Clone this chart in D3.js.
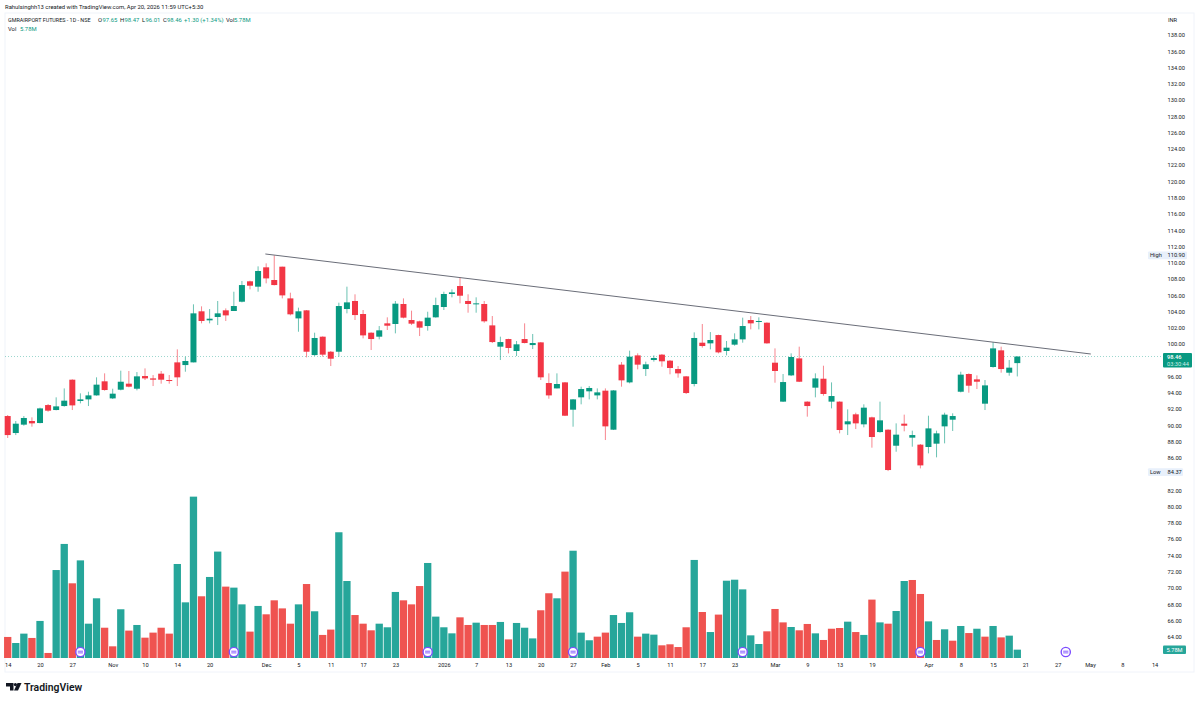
<!DOCTYPE html>
<html>
<head>
<meta charset="utf-8">
<script src="https://cdn.jsdelivr.net/npm/d3@7"></script>
<style>
  html, body { margin: 0; padding: 0; background: #fff; }
  text { font-family: Roboto, "Open Sans", sans-serif; }
</style>
</head>
<body>
<div id="chart"></div>
<script>
const opens = [91.14,89.05,90.08,90.53,90.28,92.49,91.88,92.37,95.61,92.99,93.19,93.68,95.41,93.31,94.38,95.12,94.50,96.06,95.77,96.35,95.57,97.74,97.41,97.74,104.02,102.91,103.32,104.14,104.06,105.20,107.71,107.05,109.43,107.87,109.51,105.61,103.15,104.14,98.64,100.90,99.05,99.05,
  104.30,105.29,103.69,101.39,100.90,102.54,102.46,104.92,102.95,102.79,102.21,103.28,104.55,106.15,107.13,105.29,104.92,104.92,102.29,99.67,100.61,99.14,100.61,99.87,100.20,95.20,94.54,95.28,91.92,93.44,94.18,93.68,94.26,89.46,97.46,95.28,98.60,96.92,98.03,98.69,97.95,96.92,
  96.02,95.08,100.16,100.08,101.10,99.14,99.92,100.57,102.95,102.74,102.62,97.70,92.91,96.14,98.23,92.91,94.63,95.73,92.91,92.91,90.12,91.35,90.12,90.98,89.17,89.46,87.49,90.20,88.48,87.62,87.33,87.74,89.87,90.69,94.13,96.31,95.65,92.66,97.17,99.22,96.47,97.65];
const highs = [91.26,90.53,91.14,90.98,92.17,92.62,93.44,94.54,95.65,93.93,94.13,95.90,96.39,94.50,96.72,96.68,96.55,97.00,96.18,96.68,96.18,99.34,98.44,104.88,104.63,104.30,105.29,104.38,106.43,107.75,107.79,109.55,109.92,110.90,109.51,106.31,104.47,104.18,101.39,100.94,99.14,105.08,
  107.05,106.11,104.18,101.43,102.21,103.28,105.29,105.61,104.10,102.87,103.97,105.70,106.43,106.72,108.20,106.11,105.74,105.29,103.44,100.90,100.65,100.37,102.54,101.23,100.24,96.39,96.39,95.32,93.23,94.75,94.83,94.54,94.54,94.33,97.78,99.18,98.85,97.83,98.60,98.77,98.03,97.29,
  96.06,101.43,102.46,101.47,101.15,100.37,101.31,103.24,103.44,103.28,102.66,99.46,96.31,98.85,99.67,92.95,96.39,97.33,95.28,92.95,91.96,91.55,92.58,91.06,92.91,89.50,90.24,91.31,89.34,87.70,91.18,89.34,91.55,91.47,96.59,96.39,96.14,95.57,100.24,99.67,98.03,98.47];
const lows = [88.44,88.80,89.95,89.83,90.24,91.67,91.84,92.29,91.88,92.70,92.37,93.64,94.26,93.23,94.30,94.67,94.30,95.57,94.83,95.12,95.12,94.83,96.59,97.74,102.54,102.54,102.33,102.83,104.06,105.12,106.72,106.43,107.46,107.21,105.61,103.52,101.51,98.36,98.52,98.44,97.29,98.44,
  103.77,102.95,100.69,99.26,100.57,101.72,101.31,103.15,102.33,100.98,101.64,103.24,104.18,105.74,105.00,103.85,103.85,102.62,100.12,98.03,98.85,98.52,100.08,99.38,95.57,93.27,94.54,91.14,89.83,92.58,93.19,93.19,88.19,89.42,94.75,95.16,96.88,96.06,97.83,97.21,96.27,95.86,
  93.85,94.79,99.55,99.34,98.85,98.60,99.79,100.16,101.80,101.80,100.04,95.24,92.87,96.06,95.32,91.06,93.44,93.64,92.08,89.01,88.80,89.54,89.75,87.25,89.09,84.37,86.75,89.26,87.37,84.70,86.55,86.06,87.78,89.30,94.05,94.01,94.46,91.88,97.09,96.47,96.10,96.01];
const closes = [88.80,90.20,90.90,90.24,92.08,91.80,92.33,93.03,92.45,93.19,93.68,95.00,94.34,93.89,95.36,94.75,96.02,95.77,95.61,95.61,95.45,95.90,97.91,103.77,102.83,103.11,103.77,103.52,104.67,107.25,107.17,108.98,108.07,107.25,105.98,103.65,104.02,99.05,100.74,98.69,98.19,104.67,
  105.12,103.56,101.06,100.61,101.68,102.25,104.96,103.24,102.50,102.01,103.24,104.79,106.15,106.35,105.94,104.92,105.00,102.79,100.24,100.24,99.51,99.96,100.12,100.12,95.90,93.68,95.08,91.18,93.19,94.46,94.59,94.05,89.87,94.29,95.53,98.44,97.46,97.50,98.28,97.87,97.05,96.39,
  93.97,100.74,99.75,100.49,98.97,99.55,100.57,102.21,102.54,102.83,100.08,96.68,95.32,98.40,95.36,92.37,95.77,93.85,93.60,89.42,90.49,90.24,92.17,88.56,90.61,84.50,88.85,89.95,88.80,85.07,89.62,89.01,91.31,91.14,96.23,94.87,95.36,94.91,99.46,96.92,97.09,98.46];

// volume in millions
const volumes = [14.6,10.4,16.9,13.9,25.7,3.5,61.0,79.1,51.8,67.7,23.8,41.4,21.0,8.1,33.8,19.0,22.9,14.1,17.6,21.0,16.9,65.2,38.6,111.9,42.8,56.2,73.8,49.5,48.8,37.2,18.3,36.1,30.3,40.0,34.4,23.8,37.2,51.3,32.4,16.0,19.7,87.2,
  53.4,29.8,23.8,19.2,23.8,21.3,45.8,40.0,37.2,49.9,65.9,28.7,21.3,17.1,28.2,22.9,24.5,22.9,22.9,25.0,12.9,24.3,21.0,13.6,33.1,44.9,41.4,59.9,74.4,17.6,12.3,14.8,17.6,29.8,24.3,31.7,14.8,16.9,16.2,8.8,9.5,7.6,
  21.3,68.0,31.9,18.0,30.1,53.6,54.3,47.6,15.7,9.7,18.5,34.0,24.7,21.5,19.2,23.6,17.1,12.5,20.3,20.8,25.2,18.0,16.0,40.5,24.7,23.8,32.6,53.4,54.1,44.4,25.4,12.5,19.9,12.0,22.2,17.3,20.3,14.8,22.2,14.3,15.5,5.78];
const volumeDirs = "rggrgrggrgggrrgrgrrrrgggrggrggrgrrrrgrgrrg" +
  "grrrgggrrrggggrrgrrgrgggrrgrgggrrgggrggrrr" +
  "rgrgrgggggrrrgrrgrrrgrgrgrggrrgrgrgrgrgrgg";

// 62, 84 and 98 sit under the price tags
const priceTicks = d3.range(64, 140, 2).filter(d => d !== 84 && d !== 98);
const timeTickIndexes = [0,4,8,13,17,21,25,32,36,40,44,48,54,58,62,66,70,74,78,82,86,90,95,99,103,107,114,118,122,126,130,134,138,142];
const timeTickLabels = ["14","20","27","Nov","10","14","20","Dec","5","11","17","23","2026","7","13","20","27","Feb","5","11","17","23","Mar","9","13","19","Apr","8","15","21","27","May","8","14"];
const eventIndexes = [9,28,52,70,91,113,131];
const trendIndexes = [31.9,134.1];
const trendPrices = [111.07,98.77];

const upColor = "#089981";
const downColor = "#f23645";
const volUpColor = "#26a69a";
const volDownColor = "#ef5350";
const textColor = "#131722";
const smallFont = 5.7;

const svg = d3.select("#chart").append("svg").attr("width", 1200).attr("height", 701);

const xScale = d3.scaleLinear([0, 125], [7.7, 1017.3]);
const yScale = d3.scaleLinear([100, 64], [344, 636.7]);
const volScale = d3.scaleLinear([0, 112], [658, 496.5]);

// pane border
svg.append("rect").attr("x", 5).attr("y", 13).attr("width", 1189).attr("height", 659)
  .attr("fill", "none").attr("stroke", "#f0f3fa");

// volume
svg.append("g").selectAll("rect").data(volumes).join("rect")
  .attr("x", (d, i) => xScale(i) - 3.65)
  .attr("width", 7.3)
  .attr("y", d => volScale(d))
  .attr("height", d => volScale(0) - volScale(d))
  .attr("fill", (d, i) => volumeDirs[i] === "g" ? volUpColor : volDownColor);

// last price line
const lastClose = closes[closes.length - 1];
svg.append("line").attr("x1", 5).attr("x2", 1163)
  .attr("y1", yScale(lastClose)).attr("y2", yScale(lastClose))
  .attr("stroke", upColor).attr("stroke-opacity", 0.4).attr("stroke-dasharray", "1 2");

// candles
const candles = svg.append("g").selectAll("g").data(closes).join("g");
candles.append("line")
  .attr("x1", (d, i) => xScale(i)).attr("x2", (d, i) => xScale(i))
  .attr("y1", (d, i) => yScale(highs[i])).attr("y2", (d, i) => yScale(lows[i]))
  .attr("stroke", (d, i) => d >= opens[i] ? upColor : downColor)
  .attr("stroke-opacity", 0.6);
candles.append("rect")
  .attr("x", (d, i) => xScale(i) - 3)
  .attr("width", 6)
  .attr("y", (d, i) => yScale(Math.max(d, opens[i])))
  .attr("height", (d, i) => Math.max(1, Math.abs(yScale(d) - yScale(opens[i]))))
  .attr("fill", (d, i) => d >= opens[i] ? upColor : downColor);

// trend line
svg.append("line")
  .attr("x1", xScale(trendIndexes[0])).attr("y1", yScale(trendPrices[0]))
  .attr("x2", xScale(trendIndexes[1])).attr("y2", yScale(trendPrices[1]))
  .attr("stroke", "#6a6d78").attr("stroke-width", 1);

// axes
const xAxis = svg.append("g").attr("transform", "translate(0,661)")
  .call(d3.axisBottom(xScale).tickValues(timeTickIndexes).tickSize(0).tickPadding(2)
    .tickFormat((d, i) => timeTickLabels[i]));
xAxis.select(".domain").remove();
xAxis.selectAll("text").attr("font-size", smallFont).attr("fill", textColor)
  .style("font-family", "Roboto, sans-serif");

const yAxis = svg.append("g").attr("transform", "translate(1167.5,0)")
  .call(d3.axisRight(yScale).tickValues(priceTicks).tickSize(0).tickPadding(0)
    .tickFormat(d3.format(".2f")));
yAxis.select(".domain").remove();
yAxis.selectAll("text").attr("font-size", smallFont).attr("fill", textColor)
  .style("font-family", "Roboto, sans-serif");

svg.append("text").attr("x", 1168).attr("y", 22).attr("font-size", smallFont).attr("fill", textColor).text("INR");

// event markers
const events = svg.append("g").selectAll("g").data(eventIndexes).join("g")
  .attr("transform", d => `translate(${xScale(d)},652)`);
events.append("circle").attr("r", 4.6).attr("fill", "#fff").attr("stroke", "#7c4dff").attr("stroke-width", 1.4);
events.append("path").attr("d", "M-2.6,-0.8H2.6M-2.6,0.9H2.6").attr("stroke", "#7c4dff").attr("stroke-width", 0.9);

// high / low labels
function extremeLabel(name, value, y, width) {
  svg.append("rect").attr("x", 1148).attr("y", y - 3.8).attr("width", width).attr("height", 7.6)
    .attr("fill", "#e8f0fb").attr("rx", 1);
  svg.append("text").attr("x", 1150).attr("y", y + 2).attr("font-size", smallFont).attr("fill", textColor).text(name);
  svg.append("text").attr("x", 1167.5).attr("y", y + 2).attr("font-size", smallFont).attr("fill", textColor).text(value);
}
extremeLabel("High", "110.90", yScale(d3.max(highs)), 39);
extremeLabel("Low", "84.37", yScale(d3.min(lows)) + 1, 35);

// last price tag
svg.append("rect").attr("x", 1163).attr("y", 353).attr("width", 29).attr("height", 14.5)
  .attr("fill", upColor).attr("rx", 1);
svg.append("text").attr("x", 1167).attr("y", 359.3).attr("font-size", smallFont).attr("font-weight", 500)
  .attr("fill", "#fff").text(lastClose.toFixed(2));
svg.append("text").attr("x", 1167).attr("y", 365.8).attr("font-size", smallFont).attr("fill", "#cdeee6").text("03:30:44");

// volume tag
svg.append("rect").attr("x", 1163).attr("y", 645.5).attr("width", 23).attr("height", 8.5)
  .attr("fill", volUpColor).attr("rx", 1);
svg.append("text").attr("x", 1166.5).attr("y", 652).attr("font-size", smallFont).attr("fill", "#fff").text("5.78M");

// header
svg.append("text").attr("x", 5).attr("y", 9).attr("font-size", 5.9).attr("fill", textColor)
  .text("Rahulsinghh13 created with TradingView.com, Apr 20, 2026 11:59 UTC+5:30");

const legendParts = [
  { x: 8, t: "GMRAIRPORT FUTURES - 1D - NSE", c: textColor, s: 5.4 },
  { x: 98, t: "O", c: textColor }, { x: 102.5, t: "97.65", c: upColor },
  { x: 120, t: "H", c: textColor }, { x: 124.5, t: "98.47", c: upColor },
  { x: 142, t: "L", c: textColor }, { x: 145.5, t: "96.01", c: upColor },
  { x: 163, t: "C", c: textColor }, { x: 167, t: "98.46", c: upColor },
  { x: 184, t: "+1.30 (+1.34%)", c: upColor },
  { x: 226, t: "Vol", c: textColor }, { x: 234, t: "5.78M", c: upColor },
];
svg.append("g").selectAll("text").data(legendParts).join("text")
  .attr("x", d => d.x).attr("y", 22).attr("font-size", d => d.s || 5.9).attr("fill", d => d.c).text(d => d.t);
svg.append("text").attr("x", 8).attr("y", 31).attr("font-size", 5.9).attr("fill", textColor).text("Vol");
svg.append("text").attr("x", 20).attr("y", 31).attr("font-size", 5.9).attr("fill", upColor).text("5.78M");

// footer logo
svg.append("path").attr("d", "M6,683H13.5V690.5H10V686.5H6Z").attr("fill", textColor);
svg.append("circle").attr("cx", 15.4).attr("cy", 684.6).attr("r", 1.6).attr("fill", textColor);
svg.append("path").attr("d", "M17.5,683H21.5L18,690.5H14Z").attr("fill", textColor);
svg.append("text").attr("x", 24).attr("y", 690.5).attr("font-size", 10.4).attr("font-weight", 600)
  .attr("fill", textColor).text("TradingView");
</script>
</body>
</html>
